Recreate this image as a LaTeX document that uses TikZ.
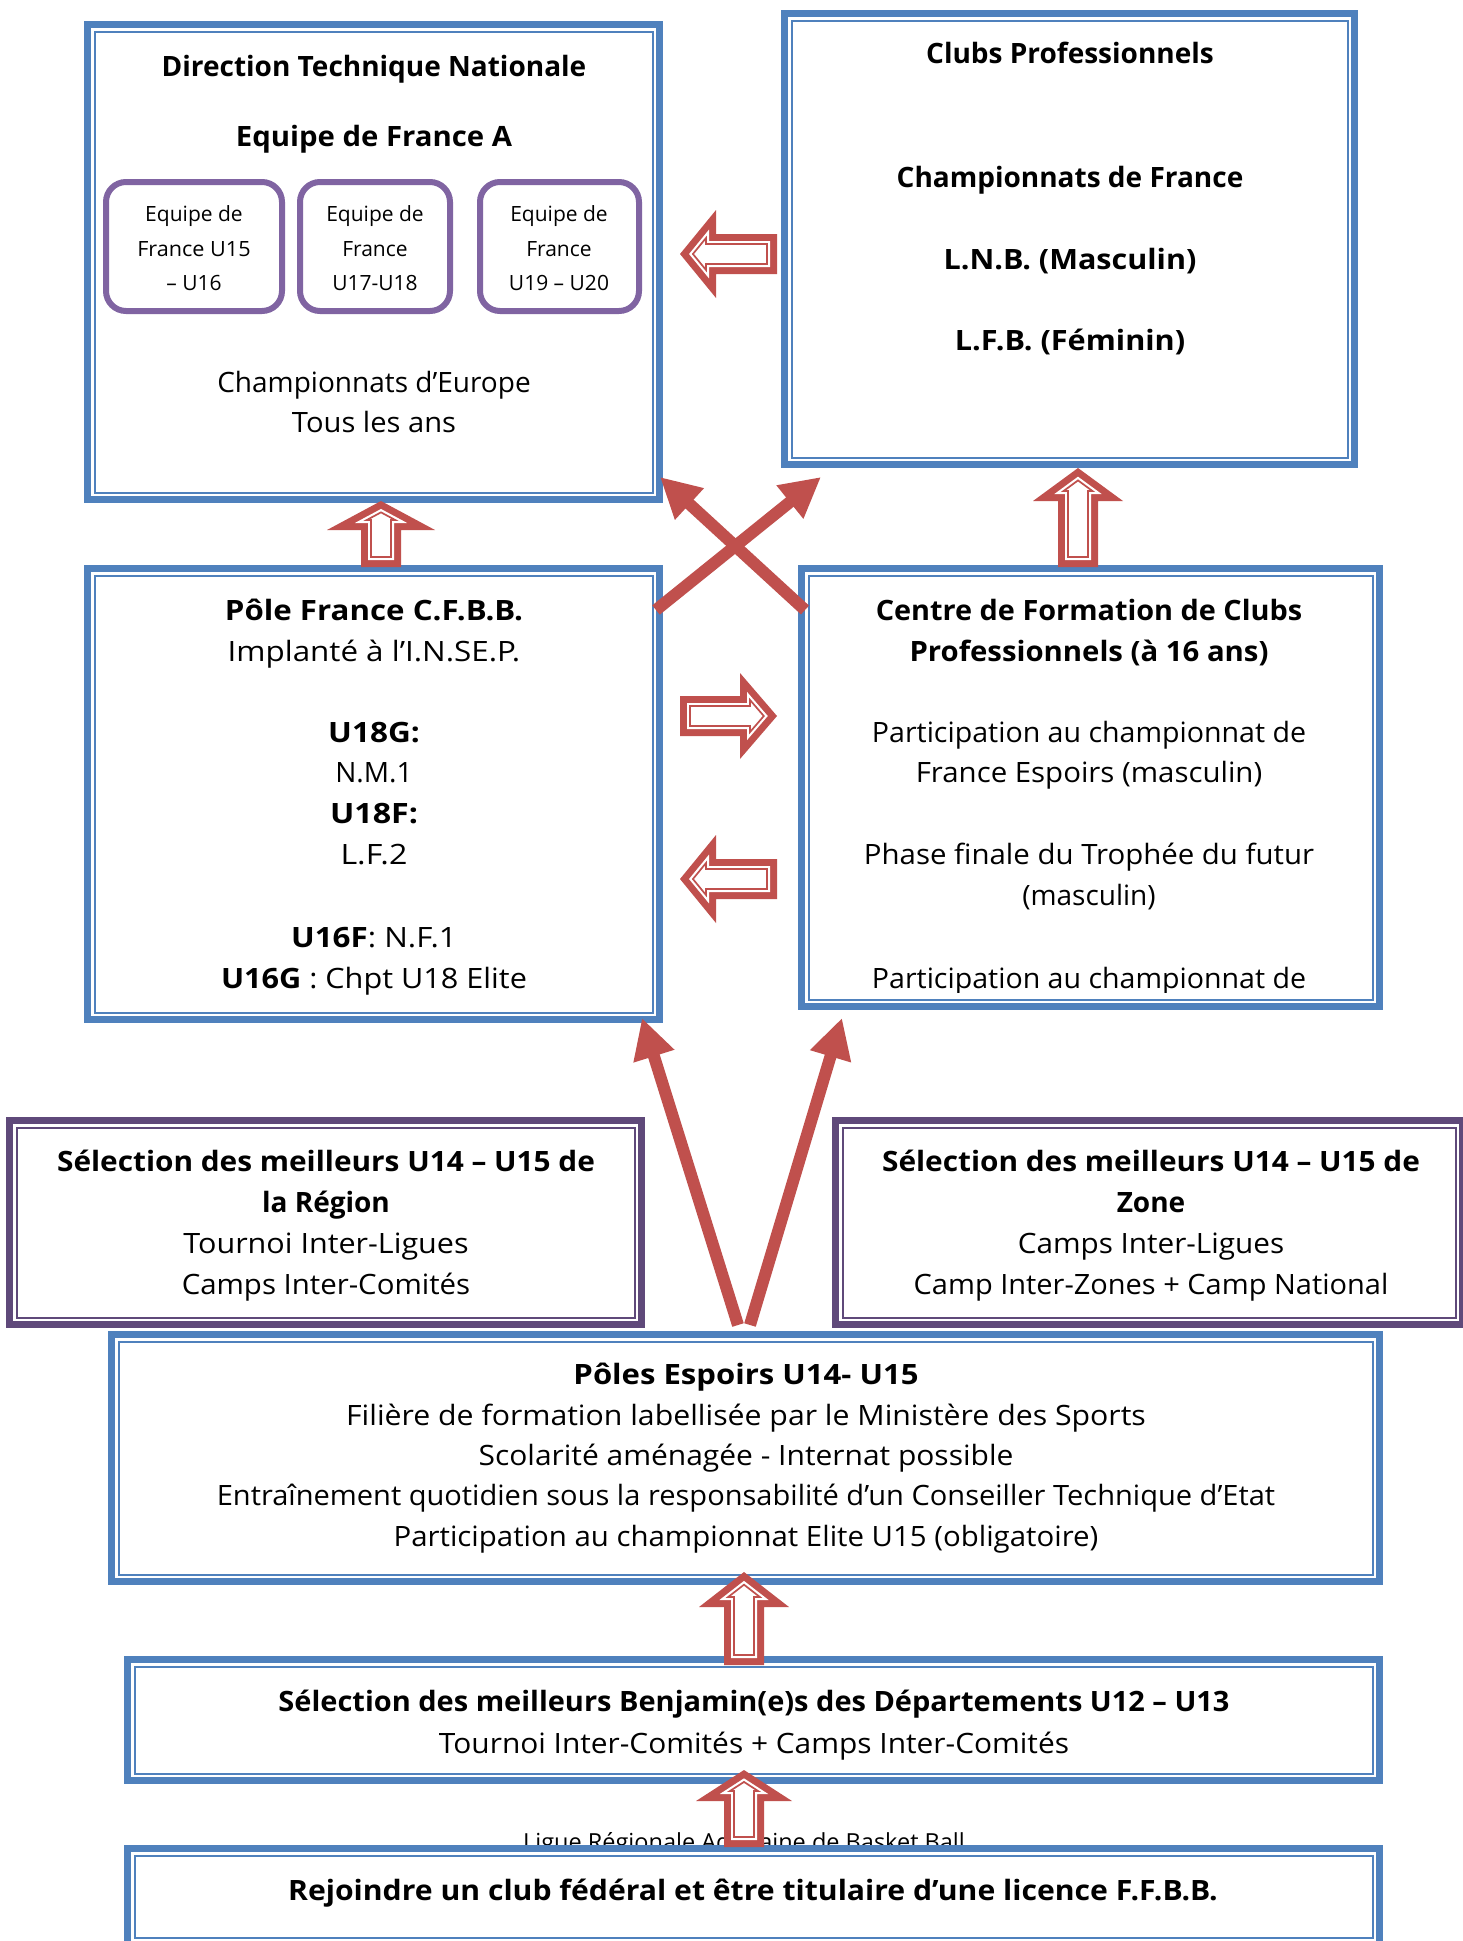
\documentclass[tikz,border=0pt]{standalone}
\usepackage{fontspec}
\usepackage{graphicx}
\setmainfont{Open Sans}
\usetikzlibrary{arrows.meta,fit}
\definecolor{boxblue}{HTML}{4F81BD}
\definecolor{boxpurple}{HTML}{5F497A}
\definecolor{rndpurple}{HTML}{8064A2}
\definecolor{arrred}{HTML}{C0504D}

\newcommand\dblframe[2]{%
  \draw[#2, line width=7pt] ([shift={(3.5,3.5)}]#1.north west) rectangle ([shift={(-3.5,-3.5)}]#1.south east);
  \draw[#2, line width=2pt] ([shift={(10.5,10.5)}]#1.north west) rectangle ([shift={(-10.5,-10.5)}]#1.south east);
}
\newcommand\arrcalc[4]{% d L H W
  \pgfmathsetmacro\aR{sqrt((#3)*(#3)+(#4)*(#4))}%
  \pgfmathsetmacro\atx{-(#1)*\aR/(#4)}%
  \pgfmathsetmacro\acx{-(#3)+(#1)}%
  \pgfmathsetmacro\acy{(#4)/(#3)*((#3)-(#1)) - (#1)*\aR/(#3)}%
  \pgfmathsetmacro\acyn{-\acy}%
  \pgfmathsetmacro\asy{20-(#1)}%
  \pgfmathsetmacro\asyn{-\asy}%
  \pgfmathsetmacro\alx{-(#2)+(#1)}%
}
\newcommand\arrshape{(\atx,0) -- (\acx,\acy) -- (\acx,\asy) -- (\alx,\asy) -- (\alx,\asyn) -- (\acx,\asyn) -- (\acx,\acyn) -- cycle}
% tip x, tip y, rotation, L, H, W
\newcommand\blockarrow[6]{%
  \begin{scope}[shift={(#1,#2)}, rotate=#3]
    \arrcalc{0}{#4}{#5}{#6}
    \fill[arrred] \arrshape;
    \arrcalc{7}{#4}{#5}{#6}
    \fill[white] \arrshape;
    \arrcalc{10}{#4}{#5}{#6}
    \draw[arrred, line width=1.7pt] \arrshape;
  \end{scope}}
% [style]{name}{x}{baseline y}{x-stretch}{text}
\newcommand\txtline[6][]{\node[txt,#1] (#2) at (#3,#4) {\scalebox{#5}[1]{#6}};}

\begin{document}
\begin{tikzpicture}[x=1pt,y=-1pt,
  box/.style={inner sep=0pt, outer sep=0pt, fill=white},
  rbox/.style={inner sep=0pt, draw=rndpurple, line width=6pt, rounded corners=20pt, fill=white},
  txt/.style={inner sep=0pt, anchor=base},
  rs/.style={font=\fontsize{28}{34}\selectfont},
  bs/.style={font=\fontsize{28}{34}\selectfont\bfseries},
  ss/.style={font=\fontsize{21}{25}\selectfont},
  ls/.style={font=\fontsize{23.5}{28}\selectfont},
  conn/.style={draw=arrred, line width=12pt, -{Triangle[length=40pt,width=40pt]}}]
\fill[white] (0,0) rectangle (1462,1941);
\useasboundingbox (0,0) rectangle (1462,1941);

% boxes
\node[box, fit={(84,21) (663,503)}] (dtn) {}; \dblframe{dtn}{boxblue}
\node[box, fit={(781,10) (1358,468)}] (clubs) {}; \dblframe{clubs}{boxblue}
\node[box, fit={(84,565) (663,1023)}] (pole) {}; \dblframe{pole}{boxblue}
\node[box, fit={(798,565) (1383,1010)}] (centre) {}; \dblframe{centre}{boxblue}
\node[box, fit={(6,1117) (645,1328)}] (selreg) {}; \dblframe{selreg}{boxpurple}
\node[box, fit={(832,1117) (1466,1328)}] (selzone) {}; \dblframe{selzone}{boxpurple}
\node[box, fit={(108,1331) (1383,1585)}] (espoirs) {}; \dblframe{espoirs}{boxblue}
\node[box, fit={(124,1656) (1383,1784)}] (benj) {}; \dblframe{benj}{boxblue}
\txtline[ls]{ligue}{744}{1850}{1.0}{Ligue Régionale Aquitaine de Basket Ball}
\node[box, fit={(124,1845) (1383,1948)}] (club) {}; \dblframe{club}{boxblue}

% rounded boxes
\node[rbox, fit={(106,182) (282,311)}] (u15) {};
\node[rbox, fit={(300,182) (450,311)}] (u17) {};
\node[rbox, fit={(480,182) (639,311)}] (u19) {};

% DTN texts
\txtline[bs]{dtn1}{374}{76}{1.0}{Direction Technique Nationale}
\txtline[bs]{dtn2}{374}{146}{1.047}{Equipe de France A}
\txtline[ss]{u15a}{194}{221}{1.0}{Equipe de}
\txtline[ss]{u15b}{194}{256}{1.03}{France U15}
\txtline[ss]{u15c}{194}{290}{1.0}{– U16}
\txtline[ss]{u17a}{375}{221}{1.0}{Equipe de}
\txtline[ss]{u17b}{375}{256}{1.0}{France}
\txtline[ss]{u17c}{375}{290}{1.0}{U17-U18}
\txtline[ss]{u19a}{559}{221}{1.0}{Equipe de}
\txtline[ss]{u19b}{559}{256}{1.0}{France}
\txtline[ss]{u19c}{559}{290}{1.0}{U19 – U20}
\txtline[rs]{dtn3}{374}{392}{1.0}{Championnats d’Europe}
\txtline[rs]{dtn4}{374}{432}{1.04}{Tous les ans}

% Clubs texts
\txtline[bs]{cl1}{1070}{63}{1.0}{Clubs Professionnels}
\txtline[bs]{cl2}{1070}{187}{1.0}{Championnats de France}
\txtline[bs]{cl3}{1070}{269}{1.09}{L.N.B. (Masculin)}
\txtline[bs]{cl4}{1070}{350}{1.094}{L.F.B. (Féminin)}

% Pole France texts
\txtline[bs]{pf1}{374}{620}{1.116}{Pôle France C.F.B.B.}
\txtline[rs]{pf2}{374}{661}{1.12}{Implanté à l’I.N.SE.P.}
\txtline[bs]{pf3}{374}{742}{1.125}{U18G:}
\txtline[rs]{pf4}{374}{782}{1.0}{N.M.1}
\txtline[bs]{pf5}{374}{823}{1.15}{U18F:}
\txtline[rs]{pf6}{374}{864}{1.15}{L.F.2}
\txtline[rs]{pf7}{374}{947}{1.12}{\textbf{U16F}: N.F.1}
\txtline[rs]{pf8}{374}{988}{1.094}{\textbf{U16G} : Chpt U18 Elite}

% Centre texts
\txtline[bs]{cf1}{1089}{620}{1.03}{Centre de Formation de Clubs}
\txtline[bs]{cf2}{1089}{661}{1.047}{Professionnels (à 16 ans)}
\txtline[rs]{cf3}{1089}{742}{1.02}{Participation au championnat de}
\txtline[rs]{cf4}{1089}{782}{1.05}{France Espoirs (masculin)}
\txtline[rs]{cf5}{1089}{864}{1.05}{Phase finale du Trophée du futur}
\txtline[rs]{cf6}{1089}{905}{1.0}{(masculin)}
\begin{scope}
\clip (810,900) rectangle (1370,992);
\txtline[rs]{cf7}{1089}{988}{1.02}{Participation au championnat de}
\end{scope}

% Selection texts
\txtline[bs]{sr1}{326}{1171}{1.064}{Sélection des meilleurs U14 – U15 de}
\txtline[bs]{sr2}{326}{1212}{1.0}{la Région}
\txtline[rs]{sr3}{326}{1253}{1.09}{Tournoi Inter-Ligues}
\txtline[rs]{sr4}{326}{1294}{1.05}{Camps Inter-Comités}
\txtline[bs]{sz1}{1151}{1171}{1.064}{Sélection des meilleurs U14 – U15 de}
\txtline[bs]{sz2}{1151}{1212}{1.0}{Zone}
\txtline[rs]{sz3}{1151}{1253}{1.06}{Camps Inter-Ligues}
\txtline[rs]{sz4}{1151}{1294}{1.035}{Camp Inter-Zones + Camp National}

% Espoirs texts
\txtline[bs]{pe1}{746}{1384}{1.11}{Pôles Espoirs U14- U15}
\txtline[rs]{pe2}{746}{1425}{1.08}{Filière de formation labellisée par le Ministère des Sports}
\txtline[rs]{pe3}{746}{1465}{1.07}{Scolarité aménagée - Internat possible}
\txtline[rs]{pe4}{746}{1505}{1.037}{Entraînement quotidien sous la responsabilité d’un Conseiller Technique d’Etat}
\txtline[rs]{pe5}{746}{1546}{1.05}{Participation au championnat Elite U15 (obligatoire)}

% Benjamins / club
\txtline[bs]{bj1}{754}{1711}{1.035}{Sélection des meilleurs Benjamin(e)s des Départements U12 – U13}
\txtline[rs]{bj2}{754}{1753}{1.067}{Tournoi Inter-Comités + Camps Inter-Comités}
\txtline[bs]{rj1}{753}{1900}{1.077}{Rejoindre un club fédéral et être titulaire d’une licence F.F.B.B.}

% block arrows
\blockarrow{680}{254}{180}{97}{36}{44}
\blockarrow{381}{501}{90}{66}{29}{54}
\blockarrow{1078}{468}{90}{99}{33}{45}
\blockarrow{777}{716}{0}{97}{37}{43}
\blockarrow{680}{879}{180}{97}{36}{44}
\blockarrow{744}{1572}{90}{93}{35}{45}
\blockarrow{744}{1770}{90}{77}{31}{48}

% thin arrows
\coordinate (x1s) at (656,610); \coordinate (x1e) at (821,477);
\coordinate (x2s) at (805,610); \coordinate (x2e) at (660,477);
\coordinate (v1s) at (738,1325); \coordinate (v1e) at (642,1018);
\coordinate (v2s) at (750,1325); \coordinate (v2e) at (842,1018);
\draw[conn] (x1s) -- (x1e);
\draw[conn] (x2s) -- (x2e);
\draw[conn] (v1s) -- (v1e);
\draw[conn] (v2s) -- (v2e);
\end{tikzpicture}
\end{document}
